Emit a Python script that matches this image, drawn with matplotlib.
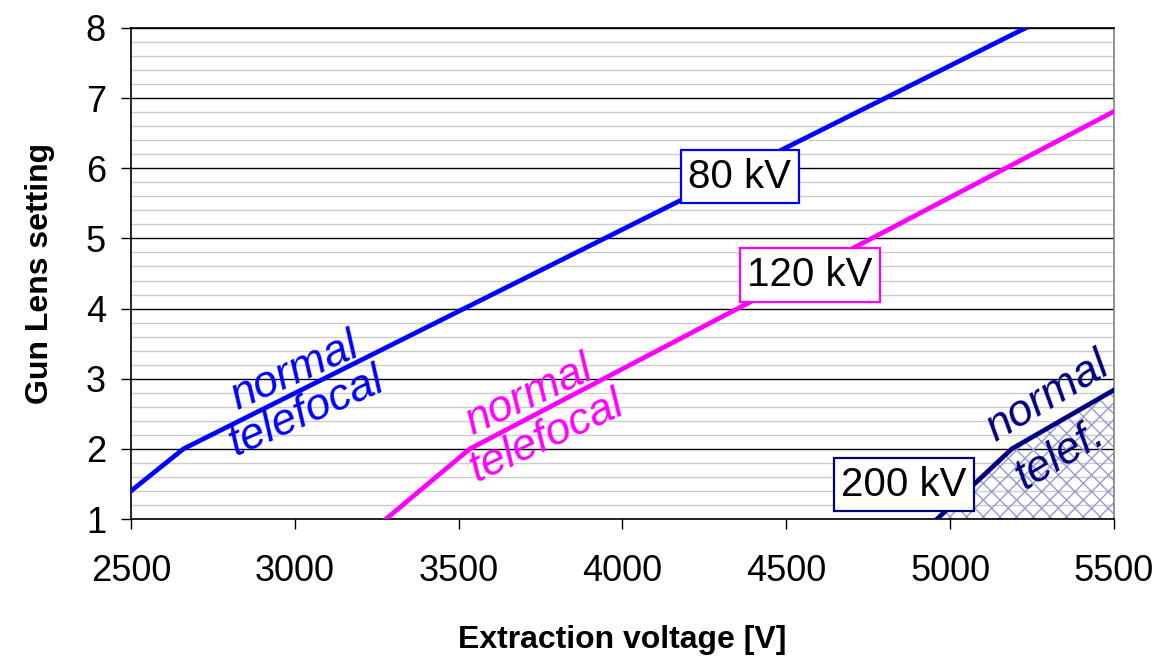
import matplotlib.pyplot as plt
import numpy as np
from matplotlib.ticker import MultipleLocator

plt.rcParams['font.family'] = ['Liberation Sans', 'DejaVu Sans']

# Gun lens setting vs extraction voltage
v_80 = [2500, 2660, 5230]
g_80 = [1.4, 2.0, 8.0]
v_120 = [3278, 3534, 5500]
g_120 = [1.0, 2.0, 6.81]
v_200 = [4960, 5188, 5500]
g_200 = [1.0, 2.0, 2.84]

x_ticks = [2500, 3000, 3500, 4000, 4500, 5000, 5500]
y_ticks = [1, 2, 3, 4, 5, 6, 7, 8]

blue = "#0000ff"
mag = "#ff00ff"
navy = "#000080"

fig = plt.figure(figsize=(11.55, 6.57), dpi=100)
ax = fig.add_axes([0.1134, 0.21, 0.8511, 0.7474])

ax.set_xlim(2500, 5500)
ax.set_ylim(1, 8)

# hatched "telefocal" region under the 200 kV curve
ax.fill_between(v_200, 1, g_200, facecolor="none", edgecolor="#9a9ad0",
                hatch="xx", linewidth=0, zorder=1)

ax.plot(v_80, g_80, color=blue, lw=3.4, zorder=3)
ax.plot(v_120, g_120, color=mag, lw=3.4, zorder=3)
ax.plot(v_200, g_200, color=navy, lw=3.4, zorder=3)

# grid
ax.yaxis.set_major_locator(MultipleLocator(1))
ax.yaxis.set_minor_locator(MultipleLocator(0.2))
ax.set_xticks(x_ticks)
ax.set_yticks(y_ticks)
ax.grid(True, which="major", axis="y", color="black", lw=1.0, zorder=0)
ax.grid(True, which="minor", axis="y", color="#cccccc", lw=1.0, zorder=0)
ax.set_axisbelow(True)

ax.tick_params(axis="both", which="major", labelsize=26, length=7, width=1,
               direction="out", color="black")
ax.tick_params(axis="y", which="major", pad=11)
ax.tick_params(axis="x", which="major", pad=18)
ax.tick_params(axis="y", which="minor", length=0)

for s in ["left", "bottom", "top"]:
    ax.spines[s].set_color("black")
    ax.spines[s].set_linewidth(1.2)
ax.spines["right"].set_color("#808080")
ax.spines["right"].set_linewidth(1.2)

ax.set_xlabel("Extraction voltage [V]", fontsize=23, fontweight="bold", labelpad=26)
ax.set_ylabel("Gun Lens setting", fontsize=23, fontweight="bold", labelpad=22)

# curve labels
lab = dict(fontsize=29, ha="center", va="center", zorder=5)
box = "square,pad=0.19"
ax.text(4358, 5.88, "80 kV", **lab,
        bbox=dict(boxstyle=box, fc="white", ec=blue, lw=1.6))
ax.text(4572, 4.48, "120 kV", **lab,
        bbox=dict(boxstyle=box, fc="white", ec=mag, lw=1.6))
ax.text(4859, 1.49, "200 kV", **lab,
        bbox=dict(boxstyle=box, fc="white", ec=navy, lw=1.6))

it = dict(fontsize=32, style="italic", ha="center", va="center",
          rotation_mode="anchor", zorder=4)
ax.text(3000, 3.10, "normal", color=blue, rotation=24, **it)
ax.text(3037, 2.53, "telefocal", color=blue, rotation=24, **it)
ax.text(3714, 2.75, "normal", color=mag, rotation=25, **it)
ax.text(3770, 2.17, "telefocal", color=mag, rotation=25, **it)
ax.text(5298, 2.74, "normal", color=navy, rotation=31, **it)
ax.text(5338, 1.91, "telef.", color=navy, rotation=31, **it)

fig.savefig("out.png", dpi=100)
